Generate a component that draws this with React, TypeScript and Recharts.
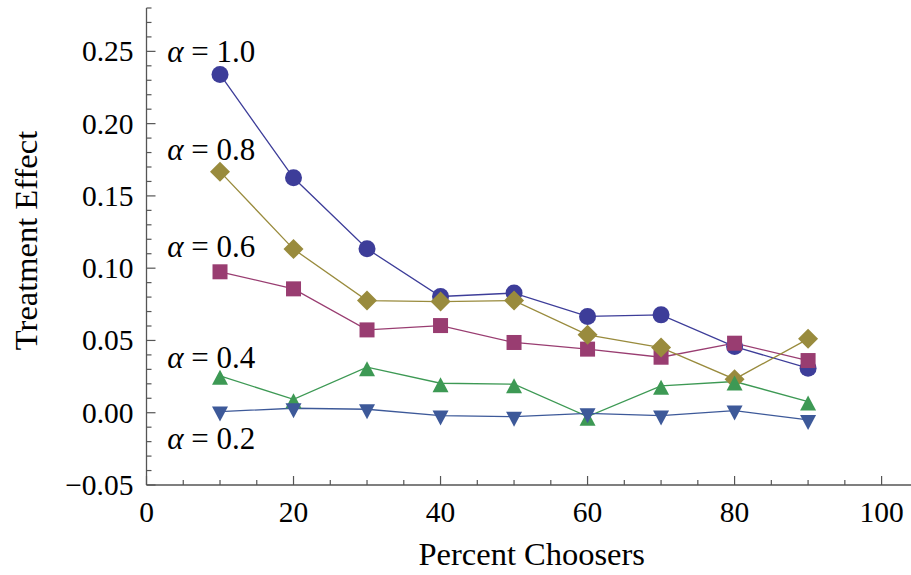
import { LineChart, Line, XAxis, YAxis, ReferenceDot } from "recharts";

const percentChoosers = [10, 20, 30, 40, 50, 60, 70, 80, 90];
const alpha10 = [0.234, 0.1625, 0.1134, 0.0804, 0.0828, 0.0666, 0.0677, 0.0458, 0.0308];
const alpha06 = [0.0975, 0.0857, 0.0573, 0.0603, 0.0486, 0.044, 0.0384, 0.0481, 0.0361];
const alpha08 = [0.1668, 0.1132, 0.0776, 0.0769, 0.0776, 0.0539, 0.0451, 0.0232, 0.0511];
const alpha04 = [0.0255, 0.0093, 0.0315, 0.0204, 0.0197, -0.0027, 0.0186, 0.0216, 0.0077];
const alpha02 = [0.0008, 0.0031, 0.0024, -0.002, -0.0027, -0.0004, -0.002, 0.0015, -0.005];

const xMajorTicks = [0, 20, 40, 60, 80, 100];
const xAllTicks = [0, 5, 10, 15, 20, 25, 30, 35, 40, 45, 50, 55, 60, 65, 70, 75, 80, 85, 90, 95, 100];
const yMajorTicks = [-0.05, 0, 0.05, 0.1, 0.15, 0.2, 0.25];
const yAllTicks = [
  -0.05, -0.04, -0.03, -0.02, -0.01, 0, 0.01, 0.02, 0.03, 0.04, 0.05, 0.06, 0.07, 0.08, 0.09,
  0.1, 0.11, 0.12, 0.13, 0.14, 0.15, 0.16, 0.17, 0.18, 0.19, 0.2, 0.21, 0.22, 0.23, 0.24,
  0.25, 0.26, 0.27, 0.28,
];

const alphaLabels = ["1.0", "0.8", "0.6", "0.4", "0.2"];
const alphaLabelX = [8.8, 8.8, 8.8, 8.8, 8.8];
const alphaLabelY = [0.25, 0.182, 0.115, 0.038, -0.018];

const data = percentChoosers.map((p, i) => ({
  p,
  a10: alpha10[i],
  a06: alpha06[i],
  a08: alpha08[i],
  a04: alpha04[i],
  a02: alpha02[i],
}));

const FONT = "'Liberation Serif', 'Times New Roman', serif";
const AXIS = "#555555";
const FS = 29.5;

const fmtY = (v: number) => {
  const s = Math.abs(v).toFixed(2);
  return v < 0 ? "\u2212" + s : s;
};

const YTick = (props: any) => {
  const { x, y, payload } = props;
  const major = yMajorTicks.includes(payload.value);
  return (
    <g>
      <line x1={x} x2={x + (major ? 9 : 5)} y1={y} y2={y} stroke={AXIS} strokeWidth={1.2} />
      {major && (
        <text x={x - 13} y={y + 10} textAnchor="end" fontFamily={FONT} fontSize={FS} fill="#000">
          {fmtY(payload.value)}
        </text>
      )}
    </g>
  );
};

const XTick = (props: any) => {
  const { x, y, payload } = props;
  const major = xMajorTicks.includes(payload.value);
  return (
    <g>
      <line x1={x} x2={x} y1={y} y2={y - (major ? 9 : 5)} stroke={AXIS} strokeWidth={1.2} />
      {major && (
        <text x={x} y={y + 37} textAnchor="middle" fontFamily={FONT} fontSize={FS} fill="#000">
          {payload.value}
        </text>
      )}
    </g>
  );
};

const marker = (kind: string, color: string) => (props: any) => {
  const { cx, cy, index } = props;
  const k = `${kind}-${index}`;
  if (kind === "circle") return <circle key={k} cx={cx} cy={cy} r={8.5} fill={color} />;
  if (kind === "square")
    return <rect key={k} x={cx - 7.5} y={cy - 7.5} width={15} height={15} fill={color} />;
  if (kind === "diamond")
    return (
      <polygon
        key={k}
        points={`${cx},${cy - 10} ${cx + 10},${cy} ${cx},${cy + 10} ${cx - 10},${cy}`}
        fill={color}
      />
    );
  if (kind === "up")
    return (
      <polygon key={k} points={`${cx},${cy - 6} ${cx + 8},${cy + 9} ${cx - 8},${cy + 9}`} fill={color} />
    );
  return (
    <polygon key={k} points={`${cx - 8},${cy - 5} ${cx + 8},${cy - 5} ${cx},${cy + 10}`} fill={color} />
  );
};

const series = [
  { key: "a10", color: "#3d3d99", kind: "circle" },
  { key: "a06", color: "#993d71", kind: "square" },
  { key: "a08", color: "#998b3d", kind: "diamond" },
  { key: "a04", color: "#3d9954", kind: "up" },
  { key: "a02", color: "#3d5999", kind: "down" },
];

export default function App() {
  return (
    <div style={{ position: "absolute", left: 0, top: 0, background: "#fff" }}>
      <LineChart width={911} height={575} data={data} margin={{ top: 8, right: 0, bottom: 0, left: 0 }}>
        <XAxis
          dataKey="p"
          type="number"
          domain={[0, 104]}
          ticks={xAllTicks}
          interval={0}
          tickSize={0}
          tickMargin={0}
          tickLine={false}
          tick={<XTick />}
          height={90}
          axisLine={{ stroke: AXIS, strokeWidth: 1.3 }}
          label={{
            content: (p: any) => {
              const vb = p.viewBox;
              return (
                <text x={vb.x + vb.width / 2 + 3} y={vb.y + 80} textAnchor="middle" fontFamily={FONT} fontSize={32.5} fill="#000">
                  Percent Choosers
                </text>
              );
            },
          }}
        />
        <YAxis
          type="number"
          domain={[-0.05, 0.28]}
          ticks={yAllTicks}
          interval={0}
          tickSize={0}
          tickMargin={0}
          tickLine={false}
          tick={<YTick />}
          width={146.5}
          axisLine={{ stroke: AXIS, strokeWidth: 1.3 }}
          label={{
            content: (p: any) => {
              const vb = p.viewBox;
              const cx = 37;
              const cy = vb.y + vb.height / 2 - 6;
              return (
                <text x={cx} y={cy} transform={`rotate(-90 ${cx} ${cy})`} textAnchor="middle" fontFamily={FONT} fontSize={32.5} fill="#000">
                  Treatment Effect
                </text>
              );
            },
          }}
        />
        {series.map((s) => (
          <Line
            key={s.key}
            dataKey={s.key}
            stroke={s.color}
            strokeWidth={1.3}
            dot={marker(s.kind, s.color)}
            activeDot={false}
            isAnimationActive={false}
          />
        ))}
        {alphaLabels.map((t, i) => (
          <ReferenceDot
            key={t}
            x={alphaLabelX[i]}
            y={alphaLabelY[i]}
            r={0}
            stroke="none"
            fill="none"
            label={{
              content: (p: any) => {
                const vb = p.viewBox;
                const cx = vb.x + (vb.width || 0) / 2;
                const cy = vb.y + (vb.height || 0) / 2;
                return (
                  <text x={cx} y={cy + 10.5} textAnchor="middle" fontFamily={FONT} fontSize={31} fill="#000">
                    <tspan fontStyle="italic">α</tspan>
                    {" = " + t}
                  </text>
                );
              },
            }}
          />
        ))}
      </LineChart>
    </div>
  );
}
